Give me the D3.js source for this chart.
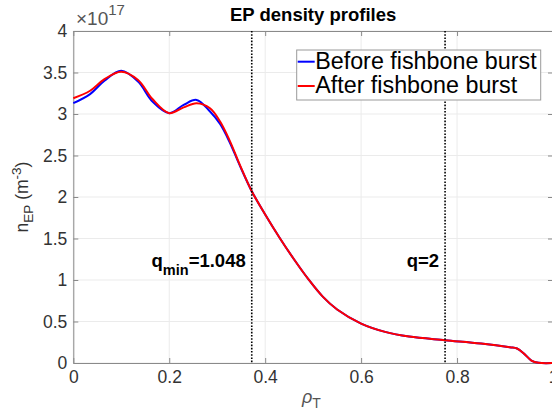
<!DOCTYPE html>
<html>
<head>
<meta charset="utf-8">
<script src="https://cdn.jsdelivr.net/npm/d3@7"></script>
<style>
  body { margin: 0; background: #fff; }
  text { font-family: "Liberation Sans", Arial, sans-serif; }
</style>
</head>
<body>
<svg id="chart" width="552" height="414"></svg>
<script>
// rho_T grid and densities (units of 1e17 m^-3)
var rho = [0, 0.035, 0.065, 0.10, 0.135, 0.165, 0.20, 0.23, 0.257, 0.285, 0.306, 0.326, 0.347,
           0.372, 0.40, 0.43, 0.46, 0.49, 0.52, 0.55, 0.60, 0.65, 0.70,
           0.775, 0.85, 0.91, 0.925, 0.94, 0.955, 0.97, 1.0];
var nBefore = [3.13, 3.24, 3.40, 3.52, 3.39, 3.15, 3.01, 3.11, 3.17, 3.03, 2.88, 2.66, 2.38,
               2.07, 1.79, 1.51, 1.25, 1.01, 0.80, 0.645, 0.475, 0.375, 0.318,
               0.275, 0.235, 0.19, 0.175, 0.11, 0.03, 0.003, 0];
var nAfter = [3.19, 3.28, 3.42, 3.51, 3.41, 3.18, 3.01, 3.08, 3.13, 3.07, 2.91, 2.68, 2.39,
              2.07, 1.79, 1.51, 1.25, 1.01, 0.80, 0.645, 0.475, 0.375, 0.318,
              0.275, 0.235, 0.19, 0.175, 0.11, 0.03, 0.003, 0];
var xTicks = [0, 0.2, 0.4, 0.6, 0.8, 1];
var yTicks = [0, 0.5, 1, 1.5, 2, 2.5, 3, 3.5, 4];
var seriesNames = ["Before fishbone burst", "After fishbone burst"];
var seriesColors = ["#0000ff", "#ff0000"];
var markers = [{x: 0.372, label: "q", sub: "min", rest: "=1.048"}, {x: 0.775, label: "q=2"}];

var svg = d3.select("#chart"),
    margin = {top: 31, right: -1, bottom: 51, left: 73.3},
    width = 552 - margin.left - margin.right,
    height = 414 - margin.top - margin.bottom;

var x = d3.scaleLinear().domain([0, 1]).range([0, width]),
    y = d3.scaleLinear().domain([0, 4]).range([height, 0]);

var g = svg.append("g")
    .attr("transform", "translate(" + margin.left + "," + margin.top + ")");

// grid
g.selectAll(".gx").data(xTicks).enter().append("line")
    .attr("x1", d => x(d)).attr("x2", d => x(d))
    .attr("y1", 0).attr("y2", height)
    .attr("stroke", "#ebebeb").attr("stroke-width", 1);
g.selectAll(".gy").data(yTicks).enter().append("line")
    .attr("x1", 0).attr("x2", width)
    .attr("y1", d => y(d)).attr("y2", d => y(d))
    .attr("stroke", "#ebebeb").attr("stroke-width", 1);

// axes, ticks inward
var axisColor = "#8a8a8a", textColor = "#333";
var ax = g.append("g").attr("transform", "translate(0," + height + ")")
    .call(d3.axisBottom(x).tickValues(xTicks).tickSizeInner(-5).tickSizeOuter(0).tickPadding(8)
      .tickFormat(d3.format("")));
var axTop = g.append("g")
    .call(d3.axisTop(x).tickValues(xTicks).tickSizeInner(-5).tickSizeOuter(0).tickFormat(""));
var ay = g.append("g")
    .call(d3.axisLeft(y).tickValues(yTicks).tickSizeInner(-5).tickSizeOuter(0).tickPadding(6)
      .tickFormat(d3.format("")));
var ayR = g.append("g").attr("transform", "translate(" + width + ",0)")
    .call(d3.axisRight(y).tickValues(yTicks).tickSizeInner(-5).tickSizeOuter(0).tickFormat(""));
[ax, axTop, ay, ayR].forEach(function(a) {
  a.select(".domain").attr("stroke", axisColor);
  a.selectAll(".tick line").attr("stroke", axisColor);
  a.selectAll(".tick text").attr("fill", textColor).attr("font-size", 17.5)
    .attr("font-family", "'Liberation Sans', Arial, sans-serif");
});

// curves
var line = d3.line()
    .x(d => x(d[0])).y(d => y(d[1]))
    .curve(d3.curveCatmullRom.alpha(0.5));
[nBefore, nAfter].forEach(function(vals, i) {
  g.append("path")
      .datum(rho.map((r, j) => [r, vals[j]]))
      .attr("fill", "none")
      .attr("stroke", seriesColors[i])
      .attr("stroke-width", 2)
      .attr("d", line);
});

// dotted marker lines and labels
markers.forEach(function(m) {
  g.append("line")
      .attr("x1", x(m.x)).attr("x2", x(m.x))
      .attr("y1", 0).attr("y2", height)
      .attr("stroke", "#000").attr("stroke-width", 1.6)
      .attr("stroke-dasharray", "1.6,1.6");
  var t = g.append("text")
      .attr("x", x(m.x) - 6).attr("y", 236)
      .attr("text-anchor", "end")
      .attr("font-size", 18.5).attr("font-weight", "bold").attr("fill", "#000");
  t.append("tspan").text(m.label);
  if (m.sub) {
    t.append("tspan").attr("dy", 8).attr("font-size", 14.5).text(m.sub);
    t.append("tspan").attr("dy", -8).text(m.rest);
  }
});

// legend
var leg = g.append("g").attr("transform", "translate(" + (296.7 - margin.left) + "," + (50 - margin.top) + ")");
leg.append("rect").attr("width", 244).attr("height", 50)
    .attr("fill", "#fff").attr("stroke", "#9a9a9a").attr("stroke-width", 1);
seriesNames.forEach(function(name, i) {
  leg.append("line")
      .attr("x1", 1).attr("x2", 18)
      .attr("y1", 11.7 + i * 24.3).attr("y2", 11.7 + i * 24.3)
      .attr("stroke", seriesColors[i]).attr("stroke-width", 2);
  leg.append("text")
      .attr("x", 18.5).attr("y", 18.5 + i * 24.5)
      .attr("font-size", 23.3).attr("fill", "#000")
      .text(name);
});

// title
svg.append("text")
    .attr("x", margin.left + x(0.5)).attr("y", 20.5)
    .attr("text-anchor", "middle")
    .attr("font-size", 18.5).attr("font-weight", "bold").attr("fill", "#000")
    .text("EP density profiles");

// exponent
var ex = svg.append("text").attr("x", 76).attr("y", 25).attr("fill", "#555").attr("font-size", 19);
ex.append("tspan").text("\u00d710");
ex.append("tspan").attr("dy", -10).attr("font-size", 15).text("17");

// x label
var xl = svg.append("text").attr("x", 302).attr("y", 403).attr("fill", "#555").attr("font-size", 18);
xl.append("tspan").attr("font-style", "italic").text("\u03c1");
xl.append("tspan").attr("dy", 5).attr("font-size", 14).text("T");

// y label
var yl = svg.append("text")
    .attr("transform", "translate(28," + (margin.top + height / 2) + ") rotate(-90)")
    .attr("text-anchor", "middle").attr("fill", "#333").attr("font-size", 17.5);
yl.append("tspan").text("n");
yl.append("tspan").attr("dy", 5).attr("font-size", 13.5).text("EP");
yl.append("tspan").attr("dy", -5).text(" (m");
yl.append("tspan").attr("dy", -7).attr("font-size", 13.5).text("-3");
yl.append("tspan").attr("dy", 7).text(")");
</script>
</body>
</html>
